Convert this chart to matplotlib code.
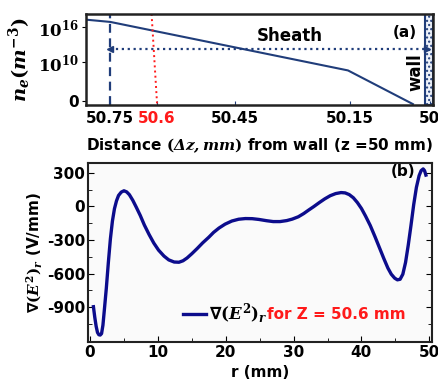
import matplotlib
matplotlib.use("Agg")
import matplotlib.pyplot as plt
from matplotlib.patches import Rectangle

plt.rcParams["font.family"] = ["DejaVu Sans"]
plt.rcParams["font.weight"] = "bold"
plt.rcParams["axes.labelweight"] = "bold"
plt.rcParams["axes.unicode_minus"] = False
plt.rcParams["mathtext.fontset"] = "dejavuserif"

NAVY = "#203d7a"
CURVE = "#0c0c8c"
RED = "#ff1a1a"

# (a) electron density vs distance from wall (positions along the drawn axis, log10 exponent)
dist_labels = ["50.75", "50.6", "50.45", "50.15", "50"]
dist_pos = [0.07, 0.204, 0.429, 0.76, 0.99]
ne_pos = [0.0, 0.07, 0.755, 0.942]
ne_exp = [17.26, 16.87, 8.55, 2.78]
ne_tick_labels = ["0", r"$\mathbf{10^{10}}$", r"$\mathbf{10^{16}}$"]
ne_tick_exp = [3.3, 10.0, 16.0]

sheath_from, sheath_to, sheath_level = 0.069, 0.983, 12.3
probe_pos = [0.189, 0.205]  # red dotted marker at 50.6 mm

# (b) radial gradient of E^2 at z = 50.6 mm
r_mm = [0.5, 0.7, 0.9, 1.1, 1.3, 1.5, 1.7, 1.9, 2.1, 2.4, 2.7, 3.0, 3.3, 3.6, 3.9,
        4.2, 4.6, 5.0, 5.4, 5.8, 6.3, 6.8, 7.4, 8.0, 8.7, 9.4, 10.1, 10.9, 11.6,
        12.4, 13.1, 13.7, 14.3, 15.0, 15.8, 16.6, 17.5, 18.2, 19.0, 19.9, 20.9,
        21.9, 22.9, 23.9, 24.9, 26.0, 27.0, 28.0, 29.0, 29.8, 30.7, 31.5, 32.2,
        33.0, 33.8, 34.6, 35.4, 36.2, 37.0, 37.6, 38.2, 38.8, 39.4, 40.0, 40.6,
        41.3, 42.0, 42.7, 43.3, 43.9, 44.4, 44.9, 45.3, 45.7, 46.1, 46.5, 46.9,
        47.3, 47.7, 48.1, 48.5, 48.8, 49.1, 49.3, 49.5]
grad_e2 = [-895, -990, -1070, -1125, -1145, -1148, -1135, -1060, -930, -730, -500,
           -290, -130, -20, 50, 98, 128, 140, 130, 105, 55, -5, -80, -165, -250,
           -327, -390, -443, -477, -496, -498, -485, -460, -422, -375, -325, -275,
           -232, -193, -158, -130, -114, -108, -109, -116, -127, -135, -135, -126,
           -113, -92, -63, -33, 0, 35, 68, 96, 115, 124, 121, 106, 78, 35, -18,
           -85, -170, -270, -375, -465, -550, -605, -640, -655, -650, -605, -500,
           -345, -170, 15, 170, 275, 320, 335, 320, 280]

fig = plt.figure(figsize=(4.39, 3.89), dpi=100)

# ---- top panel
ax1 = fig.add_axes([86 / 439, 1 - 105 / 389, 347 / 439, 91 / 389])
ax1.plot(ne_pos, ne_exp, color=NAVY, lw=1.5)
ax1.set_xlim(0, 1)
ax1.set_ylim(2.62, 18.23)
ax1.axvline(dist_pos[0], color=NAVY, lw=1.6, ls=(0, (4, 2.5)))
ax1.plot(probe_pos, [18.23, 2.62], color=RED, lw=1.4, ls=":")
ax1.plot([sheath_from, sheath_to], [sheath_level] * 2, color=NAVY, lw=1.6, ls=":")
ax1.plot([sheath_from], [sheath_level], marker="<", color=NAVY, ms=4)
ax1.plot([sheath_to], [sheath_level], marker=">", color=NAVY, ms=4)
ax1.add_patch(Rectangle((0.976, 0), 0.024, 1, transform=ax1.transAxes,
                        facecolor="#eef2fa", edgecolor=NAVY, hatch="....", lw=1.5))
ax1.text(0.587, 0.76, "Sheath", transform=ax1.transAxes, ha="center", va="center",
         fontsize=12)
ax1.text(0.918, 0.8, "(a)", transform=ax1.transAxes, ha="center", va="center",
         fontsize=11)
ax1.text(0.948, 0.36, "wall", transform=ax1.transAxes, ha="center", va="center",
         fontsize=12, rotation=90)
ax1.set_xticks(dist_pos)
ax1.set_xticklabels(dist_labels, fontsize=11)
ax1.get_xticklabels()[1].set_color(RED)
ax1.set_yticks(ne_tick_exp)
ax1.set_yticklabels(ne_tick_labels, fontsize=12)
ax1.get_yticklabels()[0].set_fontsize(11)
ax1.tick_params(axis="x", direction="in", length=3, pad=4, color=NAVY)
ax1.tick_params(axis="y", direction="out", length=3, pad=2)
ax1.set_xlabel(r"Distance $\mathbf{(}\mathbfit{\Delta z, mm}\mathbf{)}$ from wall (z =50 mm)",
               fontsize=11, labelpad=8)
ax1.set_ylabel(r"$\mathbfit{n_e}\mathbf{(}\mathbfit{m}^{\mathbf{-3}}\mathbf{)}$",
               fontsize=14, labelpad=4)
for s in ax1.spines.values():
    s.set_linewidth(1.8)
    s.set_color("#222222")

# ---- bottom panel
ax2 = fig.add_axes([88 / 439, 1 - 342 / 389, 344 / 439, 179 / 389])
ax2.set_facecolor("#fafafa")
ax2.plot(r_mm, grad_e2, color=CURVE, lw=2.4, label=r"∇$(E^2)_r$")
ax2.set_xlim(-0.3, 50.4)
ax2.set_ylim(-1210, 388)
ax2.set_xticks(range(0, 51, 10))
ax2.set_xticks(range(5, 51, 10), minor=True)
ax2.set_yticks([300, 0, -300, -600, -900])
ax2.set_yticks([150, -150, -450, -750, -1050, -1200], minor=True)
ax2.tick_params(axis="both", which="both", direction="out", labelsize=11, pad=2)
ax2.tick_params(which="major", length=4)
ax2.tick_params(which="minor", length=3)
ax2.tick_params(right=True, which="both", direction="in")
ax2.set_xlabel("r (mm)", fontsize=11, labelpad=4)
ax2.set_ylabel(r"∇$(E^2)_r$ (V/mm)", fontsize=11, labelpad=2)
ax2.text(0.915, 0.955, "(b)", transform=ax2.transAxes, ha="center", va="center",
         fontsize=11)
leg = ax2.legend(loc="center left", bbox_to_anchor=(0.276, 0.155), frameon=False,
                 fontsize=12, handlelength=1.4, handletextpad=0.15, borderpad=0,
                 borderaxespad=0)
ax2.annotate("for Z = 50.6 mm", xy=(1, 0.5), xycoords=leg.get_texts()[0],
             ha="left", va="center", color=RED, fontsize=11, fontweight="bold")
for s in ax2.spines.values():
    s.set_linewidth(1.5)
    s.set_color("#222222")

fig.canvas.draw()
fig.savefig("out.png", dpi=100)
